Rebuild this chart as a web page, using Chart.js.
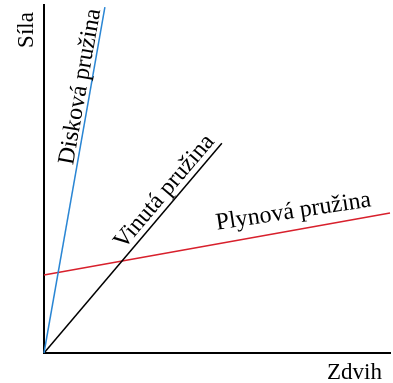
<!DOCTYPE html>
<html>
<head>
<meta charset="utf-8">
<script src="https://cdn.jsdelivr.net/npm/chart.js@4.4.1/dist/chart.umd.min.js"></script>
<style>
  html, body { margin: 0; padding: 0; background: #fff; }
  #wrap { width: 393px; height: 383px; }
</style>
</head>
<body>
<div id="wrap"><canvas id="springChart" width="393" height="383"></canvas></div>
<script>
// spring characteristics: force vs. stroke (arbitrary units 0-100)
const seriesNames = ['Disková pružina', 'Vinutá pružina', 'Plynová pružina'];
const diskX = [0, 17.6];
const diskY = [0, 99.4];
const vinX = [0, 51.4];
const vinY = [0, 60.3];
const plynX = [0, 100];
const plynY = [22.4, 40.2];
const xTitle = 'Zdvih';
const yTitle = 'Síla';

const colors = ['#2a86d4', '#000000', '#d8202c'];
// where the label sits along each line (0..1), how far above it (px), extra tilt (deg)
const labelPos = [
    { at: 0.765, off: 4, tilt: 0 },
    { at: 0.73, off: 6, tilt: 0 },
    { at: 0.73, off: 12, tilt: 1.5 }
];
const LABEL_FONT = '24px "Liberation Serif", "Times New Roman", serif';
const AXIS_FONT = '23px "Liberation Serif", "Times New Roman", serif';

function toPoints(xs, ys) {
    return xs.map((x, i) => ({ x: x, y: ys[i] }));
}

const lineLabels = {
    id: 'lineLabels',
    afterDatasetsDraw(chart) {
        const ctx = chart.ctx;
        const xs = chart.scales.x, ys = chart.scales.y;
        const area = chart.chartArea;
        ctx.save();
        ctx.fillStyle = '#000';
        ctx.font = LABEL_FONT;
        chart.data.datasets.forEach((ds, i) => {
            const a = ds.data[0], b = ds.data[ds.data.length - 1];
            const x0 = xs.getPixelForValue(a.x), y0 = ys.getPixelForValue(a.y);
            const x1 = xs.getPixelForValue(b.x), y1 = ys.getPixelForValue(b.y);
            const ang = Math.atan2(y1 - y0, x1 - x0);
            const p = labelPos[i];
            // normal pointing up/left of the line
            const nx = Math.sin(ang), ny = -Math.cos(ang);
            const cx = x0 + (x1 - x0) * p.at + nx * p.off;
            const cy = y0 + (y1 - y0) * p.at + ny * p.off;
            ctx.save();
            ctx.translate(cx, cy);
            ctx.rotate(ang + p.tilt * Math.PI / 180);
            ctx.textAlign = 'center';
            ctx.textBaseline = 'alphabetic';
            ctx.fillText(ds.label, 0, 0);
            ctx.restore();
        });

        // axis titles
        ctx.font = AXIS_FONT;
        ctx.save();
        ctx.translate(area.left - 11, area.top + 25);
        ctx.rotate(-Math.PI / 2);
        ctx.textAlign = 'center';
        ctx.textBaseline = 'alphabetic';
        ctx.fillText(yTitle, 0, 0);
        ctx.restore();

        ctx.textAlign = 'right';
        ctx.textBaseline = 'alphabetic';
        ctx.fillText(xTitle, area.right - 8, area.bottom + 26);
        ctx.restore();
    }
};

const ctx = document.getElementById('springChart').getContext('2d');
const springChart = new Chart(ctx, {
    type: 'scatter',
    data: {
        datasets: [
            { label: seriesNames[0], data: toPoints(diskX, diskY) },
            { label: seriesNames[1], data: toPoints(vinX, vinY) },
            { label: seriesNames[2], data: toPoints(plynX, plynY) }
        ].map((d, i) => Object.assign(d, {
            showLine: true,
            borderColor: colors[i],
            backgroundColor: colors[i],
            borderWidth: 1.5,
            pointRadius: 0,
            clip: false
        }))
    },
    options: {
        responsive: false,
        maintainAspectRatio: false,
        animation: false,
        layout: { padding: { left: 44, right: 3, top: 5, bottom: 30 } },
        plugins: {
            legend: { display: false },
            tooltip: { enabled: false }
        },
        scales: {
            x: {
                min: 0, max: 100,
                ticks: { display: false },
                grid: { display: false, drawTicks: false },
                border: { display: true, color: '#000', width: 2 }
            },
            y: {
                min: 0, max: 100,
                ticks: { display: false },
                grid: { display: false, drawTicks: false },
                border: { display: true, color: '#000', width: 2 }
            }
        }
    },
    plugins: [lineLabels]
});
</script>
</body>
</html>
